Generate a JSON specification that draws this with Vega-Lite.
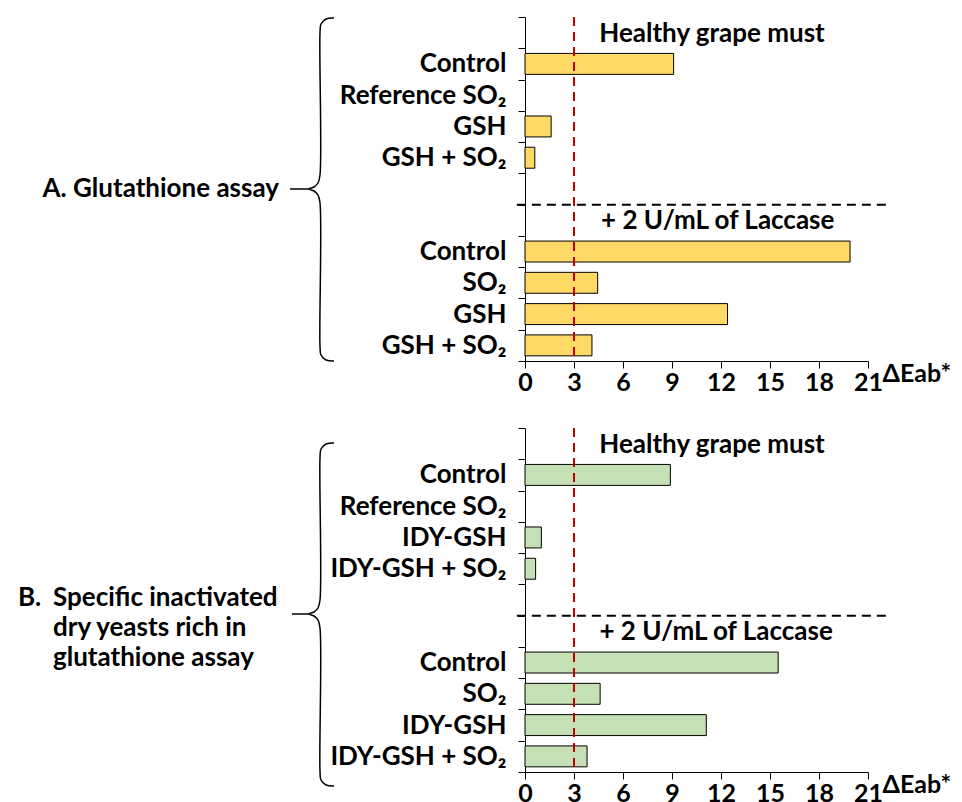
{
  "$schema": "https://vega.github.io/schema/vega-lite/v6.json",
  "padding": {"left": 0, "top": 14, "right": 0, "bottom": 0},
  "background": "white",
  "config": {"view": {"stroke": null}, "font": "Lato"},
  "datasets": {
    "bars": [
      {"panel": "A", "cat": "r1Control", "v": 9.1},
      {"panel": "A", "cat": "r3GSH", "v": 1.6},
      {"panel": "A", "cat": "r4GSH + SO₂", "v": 0.6},
      {"panel": "A", "cat": "r7Control", "v": 19.9},
      {"panel": "A", "cat": "r8SO₂", "v": 4.45},
      {"panel": "A", "cat": "r9GSH", "v": 12.4},
      {"panel": "A", "cat": "s0GSH + SO₂", "v": 4.1},
      {"panel": "B", "cat": "r1Control", "v": 8.9},
      {"panel": "B", "cat": "r3IDY-GSH", "v": 1.0},
      {"panel": "B", "cat": "r4IDY-GSH + SO₂", "v": 0.65},
      {"panel": "B", "cat": "r7Control", "v": 15.5},
      {"panel": "B", "cat": "r8SO₂", "v": 4.6},
      {"panel": "B", "cat": "r9IDY-GSH", "v": 11.1},
      {"panel": "B", "cat": "s0IDY-GSH + SO₂", "v": 3.8}
    ],
    "heads": [
      {"panel": "A", "cat": "r0", "x": 11.45, "t": "Healthy grape must"},
      {"panel": "A", "cat": "r6", "x": 11.8, "t": "+ 2 U/mL of  Laccase"},
      {"panel": "B", "cat": "r0", "x": 11.45, "t": "Healthy grape must"},
      {"panel": "B", "cat": "r6", "x": 11.7, "t": "+ 2 U/mL of Laccase"}
    ],
    "sep": [
      {"panel": "A", "cat": "r6", "x1": -0.5, "x2": 22.2},
      {"panel": "B", "cat": "r6", "x1": -0.5, "x2": 22.2}
    ],
    "thr": [
      {"panel": "A", "x": 3},
      {"panel": "B", "x": 3}
    ],
    "brace": [
      {"panel": "A", "o": 1, "bx": 334, "by": 1},
      {"panel": "A", "o": 2, "bx": 326, "by": 2},
      {"panel": "A", "o": 3, "bx": 321, "by": 7},
      {"panel": "A", "o": 4, "bx": 320, "by": 16},
      {"panel": "A", "o": 5, "bx": 320, "by": 158},
      {"panel": "A", "o": 6, "bx": 318, "by": 166},
      {"panel": "A", "o": 7, "bx": 314, "by": 170},
      {"panel": "A", "o": 8, "bx": 309, "by": 172},
      {"panel": "A", "o": 9, "bx": 314, "by": 174},
      {"panel": "A", "o": 10, "bx": 318, "by": 178},
      {"panel": "A", "o": 11, "bx": 320, "by": 186},
      {"panel": "A", "o": 12, "bx": 320, "by": 329},
      {"panel": "A", "o": 13, "bx": 321, "by": 338},
      {"panel": "A", "o": 14, "bx": 326, "by": 343},
      {"panel": "A", "o": 15, "bx": 334, "by": 344},
      {"panel": "B", "o": 1, "bx": 334, "by": 15},
      {"panel": "B", "o": 2, "bx": 326, "by": 16},
      {"panel": "B", "o": 3, "bx": 321, "by": 21},
      {"panel": "B", "o": 4, "bx": 320, "by": 30},
      {"panel": "B", "o": 5, "bx": 320, "by": 172},
      {"panel": "B", "o": 6, "bx": 318, "by": 180},
      {"panel": "B", "o": 7, "bx": 314, "by": 184},
      {"panel": "B", "o": 8, "bx": 309, "by": 186},
      {"panel": "B", "o": 9, "bx": 314, "by": 188},
      {"panel": "B", "o": 10, "bx": 318, "by": 192},
      {"panel": "B", "o": 11, "bx": 320, "by": 200},
      {"panel": "B", "o": 12, "bx": 320, "by": 343},
      {"panel": "B", "o": 13, "bx": 321, "by": 352},
      {"panel": "B", "o": 14, "bx": 326, "by": 357},
      {"panel": "B", "o": 15, "bx": 334, "by": 358}
    ],
    "dash": [
      {"panel": "A", "x1": 290, "x2": 309, "y": 172},
      {"panel": "B", "x1": 292, "x2": 309, "y": 186}
    ],
    "glabel": [
      {"panel": "A", "x": 279, "y": 172, "t": "A. Glutathione assay"},
      {"panel": "B", "x": 18, "y": 170, "t": "B."},
      {"panel": "B", "x": 53, "y": 170, "t": "Specific inactivated"},
      {"panel": "B", "x": 53, "y": 200, "t": "dry yeasts rich in"},
      {"panel": "B", "x": 53, "y": 230, "t": "glutathione assay"}
    ]
  },
  "spacing": 32,
  "vconcat": [
    {
      "bounds": "flush",
      "spacing": 190,
      "hconcat": [
        {
          "width": 335,
          "height": 344,
          "layer": [
            {
              "data": {"name": "brace"},
              "transform": [{"filter": "datum.panel === 'A'"}],
              "mark": {"type": "line", "interpolate": "catmull-rom", "stroke": "#000000", "strokeWidth": 1.5},
              "encoding": {
                "x": {"field": "bx", "type": "quantitative", "scale": {"domain": [0, 335], "nice": false, "zero": false}, "axis": null},
                "y": {"field": "by", "type": "quantitative", "scale": {"domain": [0, 344], "nice": false, "zero": false, "reverse": true}, "axis": null},
                "order": {"field": "o", "type": "quantitative"}
              }
            },
            {
              "data": {"name": "dash"},
              "transform": [{"filter": "datum.panel === 'A'"}],
              "mark": {"type": "rule", "stroke": "#000000", "strokeWidth": 1.5},
              "encoding": {
                "x": {"field": "x1", "type": "quantitative"},
                "x2": {"field": "x2"},
                "y": {"field": "y", "type": "quantitative"}
              }
            },
            {
              "data": {"name": "glabel"},
              "transform": [{"filter": "datum.panel === 'A'"}],
              "mark": {"type": "text", "align": "right", "baseline": "middle", "fontSize": 26, "fontWeight": "bold", "font": "Lato", "color": "#000000"},
              "encoding": {
                "x": {"field": "x", "type": "quantitative"},
                "y": {"field": "y", "type": "quantitative"},
                "text": {"field": "t"}
              }
            }
          ]
        },
        {
          "width": 343,
          "height": 344,
          "layer": [
            {
              "data": {"name": "bars"},
              "transform": [{"filter": "datum.panel === 'A'"}],
              "mark": {"type": "bar", "height": {"band": 0.67}, "fill": "#FFD966", "stroke": "#000000", "strokeWidth": 1},
              "encoding": {
                "y": {
                  "field": "cat", "type": "nominal",
                  "scale": {"domain": ["r0", "r1Control", "r2Reference SO₂", "r3GSH", "r4GSH + SO₂", "r5", "r6", "r7Control", "r8SO₂", "r9GSH", "s0GSH + SO₂"], "paddingInner": 0, "paddingOuter": 0},
                  "axis": {"title": null, "tickBand": "extent", "labelExpr": "isString(datum.value) ? substring(datum.value, 2) : ''", "labelFont": "Lato", "labelFontWeight": "bold", "labelFontSize": {"condition": {"test": "!isString(datum.value)", "value": 0}, "value": 26}, "labelColor": "#000000", "tickColor": "#000000", "domainColor": "#000000", "tickSize": 7, "labelPadding": 12, "minExtent": 190, "maxExtent": 190, "labelLimit": 300, "grid": false}
                },
                "x": {
                  "field": "v", "type": "quantitative",
                  "scale": {"domain": [0, 21], "nice": false},
                  "axis": {"values": [0, 3, 6, 9, 12, 15, 18, 21], "title": "ΔEab*", "titleX": 357, "titleY": 12, "titleAlign": "left", "titleBaseline": "middle", "titleFont": "Lato", "titleFontSize": 25, "titleFontWeight": "bold", "titleColor": "#000000", "labelFont": "Lato", "labelFontSize": 25, "labelFontWeight": "bold", "labelColor": "#000000", "tickColor": "#000000", "domainColor": "#000000", "tickSize": 7, "labelPadding": 2, "grid": false, "labelFlush": false, "labelOverlap": false}
                }
              }
            },
            {
              "data": {"name": "thr"},
              "transform": [{"filter": "datum.panel === 'A'"}],
              "mark": {"type": "rule", "stroke": "#C00000", "strokeWidth": 2, "strokeDash": [9, 6]},
              "encoding": {"x": {"field": "x", "type": "quantitative"}}
            },
            {
              "data": {"name": "sep"},
              "transform": [{"filter": "datum.panel === 'A'"}],
              "mark": {"type": "rule", "stroke": "#000000", "strokeWidth": 2, "strokeDash": [9, 6]},
              "encoding": {
                "y": {"field": "cat", "type": "nominal", "bandPosition": 0},
                "x": {"field": "x1", "type": "quantitative"},
                "x2": {"field": "x2"}
              }
            },
            {
              "data": {"name": "heads"},
              "transform": [{"filter": "datum.panel === 'A'"}],
              "mark": {"type": "text", "align": "center", "baseline": "middle", "fontSize": 26, "fontWeight": "bold", "font": "Lato", "color": "#000000", "dy": 1},
              "encoding": {
                "y": {"field": "cat", "type": "nominal"},
                "x": {"field": "x", "type": "quantitative"},
                "text": {"field": "t"}
              }
            }
          ]
        }
      ]
    },
    {
      "bounds": "flush",
      "spacing": 190,
      "hconcat": [
        {
          "width": 335,
          "height": 344,
          "layer": [
            {
              "data": {"name": "brace"},
              "transform": [{"filter": "datum.panel === 'B'"}],
              "mark": {"type": "line", "interpolate": "catmull-rom", "stroke": "#000000", "strokeWidth": 1.5},
              "encoding": {
                "x": {"field": "bx", "type": "quantitative", "scale": {"domain": [0, 335], "nice": false, "zero": false}, "axis": null},
                "y": {"field": "by", "type": "quantitative", "scale": {"domain": [0, 344], "nice": false, "zero": false, "reverse": true}, "axis": null},
                "order": {"field": "o", "type": "quantitative"}
              }
            },
            {
              "data": {"name": "dash"},
              "transform": [{"filter": "datum.panel === 'B'"}],
              "mark": {"type": "rule", "stroke": "#000000", "strokeWidth": 1.5},
              "encoding": {
                "x": {"field": "x1", "type": "quantitative"},
                "x2": {"field": "x2"},
                "y": {"field": "y", "type": "quantitative"}
              }
            },
            {
              "data": {"name": "glabel"},
              "transform": [{"filter": "datum.panel === 'B'"}],
              "mark": {"type": "text", "align": "left", "baseline": "middle", "fontSize": 26, "fontWeight": "bold", "font": "Lato", "color": "#000000"},
              "encoding": {
                "x": {"field": "x", "type": "quantitative"},
                "y": {"field": "y", "type": "quantitative"},
                "text": {"field": "t"}
              }
            }
          ]
        },
        {
          "width": 343,
          "height": 344,
          "layer": [
            {
              "data": {"name": "bars"},
              "transform": [{"filter": "datum.panel === 'B'"}],
              "mark": {"type": "bar", "height": {"band": 0.67}, "fill": "#C5E0B4", "stroke": "#000000", "strokeWidth": 1},
              "encoding": {
                "y": {
                  "field": "cat", "type": "nominal",
                  "scale": {"domain": ["r0", "r1Control", "r2Reference SO₂", "r3IDY-GSH", "r4IDY-GSH + SO₂", "r5", "r6", "r7Control", "r8SO₂", "r9IDY-GSH", "s0IDY-GSH + SO₂"], "paddingInner": 0, "paddingOuter": 0},
                  "axis": {"title": null, "tickBand": "extent", "labelExpr": "isString(datum.value) ? substring(datum.value, 2) : ''", "labelFont": "Lato", "labelFontWeight": "bold", "labelFontSize": {"condition": {"test": "!isString(datum.value)", "value": 0}, "value": 26}, "labelColor": "#000000", "tickColor": "#000000", "domainColor": "#000000", "tickSize": 7, "labelPadding": 12, "minExtent": 190, "maxExtent": 190, "labelLimit": 300, "grid": false}
                },
                "x": {
                  "field": "v", "type": "quantitative",
                  "scale": {"domain": [0, 21], "nice": false},
                  "axis": {"values": [0, 3, 6, 9, 12, 15, 18, 21], "title": "ΔEab*", "titleX": 357, "titleY": 12, "titleAlign": "left", "titleBaseline": "middle", "titleFont": "Lato", "titleFontSize": 25, "titleFontWeight": "bold", "titleColor": "#000000", "labelFont": "Lato", "labelFontSize": 25, "labelFontWeight": "bold", "labelColor": "#000000", "tickColor": "#000000", "domainColor": "#000000", "tickSize": 7, "labelPadding": 2, "grid": false, "labelFlush": false, "labelOverlap": false}
                }
              }
            },
            {
              "data": {"name": "thr"},
              "transform": [{"filter": "datum.panel === 'B'"}],
              "mark": {"type": "rule", "stroke": "#C00000", "strokeWidth": 2, "strokeDash": [9, 6]},
              "encoding": {"x": {"field": "x", "type": "quantitative"}}
            },
            {
              "data": {"name": "sep"},
              "transform": [{"filter": "datum.panel === 'B'"}],
              "mark": {"type": "rule", "stroke": "#000000", "strokeWidth": 2, "strokeDash": [9, 6]},
              "encoding": {
                "y": {"field": "cat", "type": "nominal", "bandPosition": 0},
                "x": {"field": "x1", "type": "quantitative"},
                "x2": {"field": "x2"}
              }
            },
            {
              "data": {"name": "heads"},
              "transform": [{"filter": "datum.panel === 'B'"}],
              "mark": {"type": "text", "align": "center", "baseline": "middle", "fontSize": 26, "fontWeight": "bold", "font": "Lato", "color": "#000000", "dy": 1},
              "encoding": {
                "y": {"field": "cat", "type": "nominal"},
                "x": {"field": "x", "type": "quantitative"},
                "text": {"field": "t"}
              }
            }
          ]
        }
      ]
    }
  ]
}
